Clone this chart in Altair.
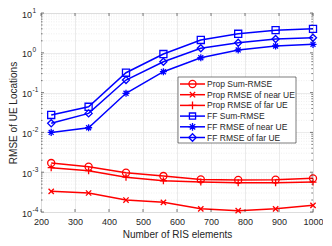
import altair as alt
import pandas as pd

# ---- data ----
ris = [230, 340, 450, 560, 670, 780, 890, 1000]
prop_sum = [1.7e-3, 1.37e-3, 9.7e-4, 8.0e-4, 6.6e-4, 6.4e-4, 6.5e-4, 7.0e-4]
prop_near = [3.3e-4, 3.0e-4, 2.0e-4, 1.75e-4, 1.2e-4, 1.08e-4, 1.2e-4, 1.47e-4]
prop_far = [1.3e-3, 1.09e-3, 7.5e-4, 6.1e-4, 5.7e-4, 5.45e-4, 5.45e-4, 5.65e-4]
ff_sum = [0.0274, 0.044, 0.316, 0.93, 2.1, 3.0, 3.7, 4.0]
ff_near = [0.010, 0.0131, 0.096, 0.335, 0.75, 1.18, 1.48, 1.63]
ff_far = [0.0169, 0.030, 0.207, 0.597, 1.30, 1.79, 2.22, 2.39]

series_names = ["Prop Sum-RMSE", "Prop RMSE of near UE", "Prop RMSE of far UE",
                "FF Sum-RMSE", "FF RMSE of near UE", "FF RMSE of far UE"]
series_vals = [prop_sum, prop_near, prop_far, ff_sum, ff_near, ff_far]
series_colors = ["#FF0000", "#FF0000", "#FF0000", "#0000FF", "#0000FF", "#0000FF"]

X_PATH = "M-0.75,-0.75L0.75,0.75M-0.75,0.75L0.75,-0.75"
PLUS_PATH = "M-1,0L1,0M0,-1L0,1"
STAR_PATH = "M-1,0L1,0M0,-1L0,1M-0.7,-0.7L0.7,0.7M-0.7,0.7L0.7,-0.7"
series_shapes = ["circle", X_PATH, PLUS_PATH, "square", STAR_PATH, "diamond"]
series_sizes = [50, 50, 60, 38, 60, 55]

x_ticks = [200, 300, 400, 500, 600, 700, 800, 900, 1000]
y_decades = [1e-4, 1e-3, 1e-2, 1e-1, 1e0, 1e1]
y_exps = ["-4", "-3", "-2", "-1", "0", "1"]
y_minor = [m * d for d in [1e-4, 1e-3, 1e-2, 1e-1, 1e0] for m in range(2, 10)]

rows = []
for name, vals in zip(series_names, series_vals):
    for xv, yv in zip(ris, vals):
        rows.append({"ris": xv, "rmse": yv, "series": name})
df = pd.DataFrame(rows)

W, H = 272, 199
FONT = "Liberation Sans"
TXT = "#262626"

xscale = alt.Scale(domain=[200, 1000], nice=False, zero=False)
yscale = alt.Scale(type="log", domain=[1e-4, 10], nice=False)
cscale = alt.Scale(domain=series_names, range=series_colors)
sscale = alt.Scale(domain=series_names, range=series_shapes)
zscale = alt.Scale(domain=series_names, range=series_sizes)

xaxis = alt.Axis(values=x_ticks, format="d", labelOverlap=False, labelBound=False,
                 labelFlush=False,
                 title="Number of RIS elements", grid=True, ticks=False,
                 domain=False, labelFontSize=9, labelFont=FONT, labelColor=TXT,
                 labelPadding=5, titleFontSize=10, titleFont=FONT, titleColor=TXT,
                 titleFontWeight="normal", titlePadding=3, gridColor="#dedede",
                 gridWidth=0.6)
yaxis = alt.Axis(values=y_decades, title="RMSE of UE Locations", grid=True, ticks=False,
                 domain=False, labels=False, titleFontSize=10, titleFont=FONT,
                 titleColor=TXT, titleFontWeight="normal", titlePadding=23,
                 gridColor="#dedede", gridWidth=0.6)


def X(field):
    return alt.X(field, scale=xscale, axis=xaxis, title="Number of RIS elements")


def Y(field):
    return alt.Y(field, scale=yscale, axis=yaxis, title="RMSE of UE Locations")


minor_df = pd.DataFrame({"v": y_minor})
minor_grid = alt.Chart(minor_df).mark_rule(color="#e4e4e4", strokeWidth=0.6, strokeDash=[1, 1.5]).encode(
    y=Y("v:Q"), x=alt.value(0), x2=alt.value(W),
)

lines = alt.Chart(df).mark_line(strokeWidth=1.5).encode(
    x=X("ris:Q"), y=Y("rmse:Q"),
    color=alt.Color("series:N", scale=cscale, legend=None),
    detail="series:N",
)

points = alt.Chart(df).mark_point(filled=False, strokeWidth=1.3, opacity=1).encode(
    x=X("ris:Q"), y=Y("rmse:Q"),
    color=alt.Color("series:N", scale=cscale, legend=None),
    shape=alt.Shape("series:N", scale=sscale, legend=None),
    size=alt.Size("series:N", scale=zscale, legend=None),
)

# y tick labels as 10 with superscript exponent
dec_df = pd.DataFrame({"v": y_decades, "e": y_exps})
ylab10 = alt.Chart(dec_df).mark_text(align="right", baseline="middle", fontSize=9, font=FONT,
                                     color=TXT, dy=1.5).encode(
    y=Y("v:Q"), x=alt.value(-9), text=alt.value("10"))
ylabexp = alt.Chart(dec_df).mark_text(align="left", baseline="middle", fontSize=6.5, font=FONT,
                                      color=TXT, dy=-2.5).encode(
    y=Y("v:Q"), x=alt.value(-8.5), text="e:N")

# inward ticks
xt_df = pd.DataFrame({"v": x_ticks})
tick_style = dict(color="#262626", strokeWidth=0.6)
xt_bot = alt.Chart(xt_df).mark_rule(**tick_style).encode(
    x=X("v:Q"), y=alt.value(H), y2=alt.value(H - 3))
xt_top = alt.Chart(xt_df).mark_rule(**tick_style).encode(
    x=X("v:Q"), y=alt.value(0), y2=alt.value(3))
yt_left = alt.Chart(dec_df).mark_rule(**tick_style).encode(
    y=Y("v:Q"), x=alt.value(0), x2=alt.value(3))
yt_right = alt.Chart(dec_df).mark_rule(**tick_style).encode(
    y=Y("v:Q"), x=alt.value(W), x2=alt.value(W - 3))
ym_left = alt.Chart(minor_df).mark_rule(**tick_style).encode(
    y=Y("v:Q"), x=alt.value(0), x2=alt.value(1.6))
ym_right = alt.Chart(minor_df).mark_rule(**tick_style).encode(
    y=Y("v:Q"), x=alt.value(W), x2=alt.value(W - 1.6))

# legend
one = alt.Data(values=[{"a": 1}])
LX0, LX1, LY0, LY1 = 137, 255, 64, 130
leg_layers = [
    alt.Chart(one).mark_rect(fill="white", stroke="#262626", strokeWidth=0.6).encode(
        x=alt.value(LX0), x2=alt.value(LX1), y=alt.value(LY0), y2=alt.value(LY1))
]
for i, name in enumerate(series_names):
    yy = 71 + i * 10.7
    leg_layers.append(alt.Chart(one).mark_rule(strokeWidth=1.5, color=series_colors[i]).encode(
        x=alt.value(139), x2=alt.value(164), y=alt.value(yy)))
    leg_layers.append(alt.Chart(one).mark_point(filled=False, strokeWidth=1.3, opacity=1,
                                                color=series_colors[i], shape=series_shapes[i],
                                                size=series_sizes[i]).encode(
        x=alt.value(151.5), y=alt.value(yy)))
    leg_layers.append(alt.Chart(one).mark_text(text=name, align="left", baseline="middle",
                                               fontSize=8.5, font=FONT, color=TXT).encode(
        x=alt.value(166), y=alt.value(yy)))

chart = alt.layer(
    minor_grid, lines, points, ylab10, ylabexp,
    xt_bot, xt_top, yt_left, yt_right, ym_left, ym_right,
    *leg_layers
).properties(
    width=W, height=H,
    autosize=alt.AutoSizeParams(type="none"),
    padding={"left": 33, "top": 5, "right": 10, "bottom": 26},
).configure_view(stroke="#404040", strokeWidth=0.7).configure(background="white")

chart.save("out.html", embed_options={"renderer": "svg", "actions": False})
